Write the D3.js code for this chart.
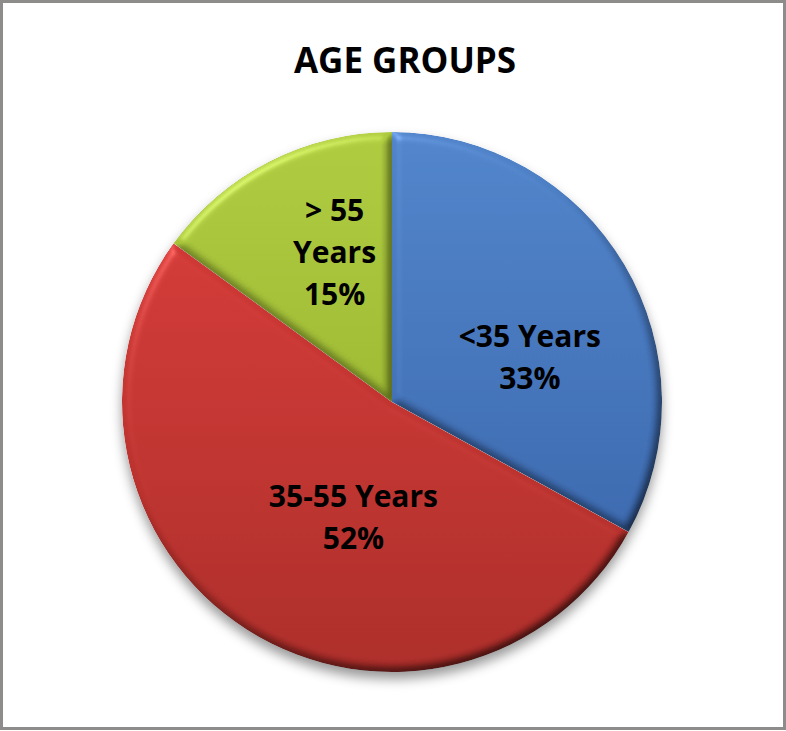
<!DOCTYPE html>
<html>
<head>
<meta charset="utf-8">
<script src="https://cdn.jsdelivr.net/npm/d3@7"></script>
<style>
  html,body{margin:0;padding:0;background:#fff;}
  svg{display:block;}
  text{font-family:"Open Sans","DejaVu Sans",sans-serif;font-weight:700;fill:#000;}
</style>
</head>
<body>
<div id="chart"></div>
<script>
// chart data
var title="AGE GROUPS";
var categories=[["<35 Years"],["35-55 Years"],["> 55","Years"]]; // label lines as shown on slice
var values=[33,52,15]; // percent
var colorsTop=["#4f82c8","#d93b38","#abc83d"];
var colorsBot=["#335ea3","#aa2c28","#8ca826"];
// label nudges from centroid (Excel best-fit puts them a bit off centre)
var nudge=[[10,32],[41,-9],[10,-17]];

var W=786,H=731;
var cx=392,cy=402,r=270;

var svg=d3.select("#chart").append("svg").attr("width",W).attr("height",H);
var defs=svg.append("defs");

// frame
svg.append("rect").attr("x",1.5).attr("y",1.5).attr("width",W-3).attr("height",H-4)
	.attr("fill","#fff").attr("stroke","#8e8c8b").attr("stroke-width",3);

// title
svg.append("text").attr("x",405).attr("y",73).attr("text-anchor","middle")
	.style("font-size","35px").text(title);

// drop shadow for whole pie
var sh=defs.append("filter").attr("id","shadow").attr("x","-20%").attr("y","-20%").attr("width","140%").attr("height","140%")
	.attr("color-interpolation-filters","sRGB");
sh.append("feDropShadow").attr("dx",0).attr("dy",7).attr("stdDeviation",6)
	.attr("flood-color","#000").attr("flood-opacity",0.4);

// bevel: blur the alpha, light it from upper left
var bv=defs.append("filter").attr("id","bevel").attr("x","-10%").attr("y","-10%").attr("width","120%").attr("height","120%")
	.attr("color-interpolation-filters","sRGB");
bv.append("feGaussianBlur").attr("in","SourceAlpha").attr("stdDeviation",5).attr("result","blur");
var dl=bv.append("feDiffuseLighting").attr("in","blur").attr("surfaceScale",3.5)
	.attr("diffuseConstant",1.31).attr("lighting-color","#fff").attr("result","diff");
dl.append("feDistantLight").attr("azimuth",235).attr("elevation",50);
var sl=bv.append("feSpecularLighting").attr("in","blur").attr("surfaceScale",3.5)
	.attr("specularConstant",0.35).attr("specularExponent",40).attr("lighting-color","#fff").attr("result","spec");
sl.append("feDistantLight").attr("azimuth",235).attr("elevation",50);
bv.append("feComposite").attr("in","spec").attr("in2","SourceAlpha").attr("operator","in").attr("result","specIn");
bv.append("feBlend").attr("in","SourceGraphic").attr("in2","diff").attr("mode","multiply").attr("result","shaded");
bv.append("feComposite").attr("in","shaded").attr("in2","SourceAlpha").attr("operator","in").attr("result","shadedIn");
bv.append("feComposite").attr("in","shadedIn").attr("in2","specIn").attr("operator","arithmetic")
	.attr("k1",0).attr("k2",1).attr("k3",0.5).attr("k4",0);

// vertical gradient per slice
values.forEach(function(v,i){
	var g=defs.append("linearGradient").attr("id","grad"+i).attr("gradientUnits","userSpaceOnUse")
		.attr("x1",0).attr("y1",-r).attr("x2",0).attr("y2",r);
	g.append("stop").attr("offset","0%").attr("stop-color",colorsTop[i]);
	g.append("stop").attr("offset","100%").attr("stop-color",colorsBot[i]);
});

var pie=d3.pie().sort(null).value(function(d){return d;});
var arcs=pie(values);
var arc=d3.arc().innerRadius(0).outerRadius(r);
var labelArc=d3.arc().innerRadius(r*0.55).outerRadius(r*0.55);

var g=svg.append("g").attr("transform","translate("+cx+","+cy+")");
var pieG=g.append("g").attr("filter","url(#shadow)");
pieG.selectAll("path").data(arcs).enter().append("path")
	.attr("d",arc)
	.attr("fill",function(d,i){return "url(#grad"+i+")";})
	.attr("filter","url(#bevel)");

// labels
var lab=g.selectAll("text.lab").data(arcs).enter().append("text").attr("class","lab")
	.attr("text-anchor","middle").style("font-size","30px")
	.attr("transform",function(d,i){
		var c=labelArc.centroid(d);
		return "translate("+(c[0]+nudge[i][0])+","+(c[1]+nudge[i][1])+")";
	});
lab.each(function(d,i){
	var lines=categories[i].concat([values[i]+"%"]);
	var t=d3.select(this);
	var y0=-(lines.length-1)*42/2+10;
	lines.forEach(function(s,k){
		t.append("tspan").attr("x",0).attr("y",y0+k*42).text(s);
	});
});
</script>
</body>
</html>
